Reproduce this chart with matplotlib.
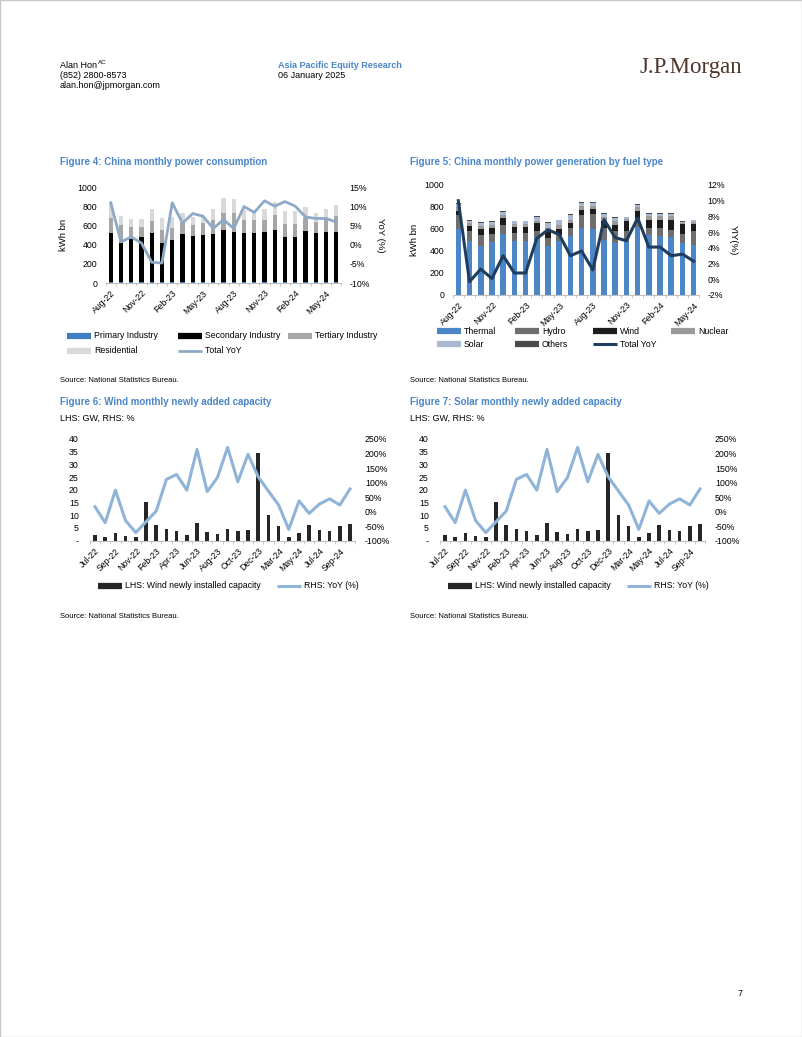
import numpy as np
import matplotlib.pyplot as plt
from matplotlib.lines import Line2D
from matplotlib.patches import Rectangle
from matplotlib.ticker import FuncFormatter, FixedLocator

plt.rcParams['font.family'] = ['Liberation Sans', 'DejaVu Sans']

W, H = 802, 1037
BLUE_TITLE = '#4a86c8'
FS = 6.3

# ---- Figure 4: China monthly power consumption (kWh bn) ----
months4 = ['Aug-22', 'Sep-22', 'Oct-22', 'Nov-22', 'Dec-22', 'Jan-23', 'Feb-23', 'Mar-23',
           'Apr-23', 'May-23', 'Jun-23', 'Jul-23', 'Aug-23', 'Sep-23', 'Oct-23', 'Nov-23',
           'Dec-23', 'Jan-24', 'Feb-24', 'Mar-24', 'Apr-24', 'May-24', 'Jun-24']
primary = [11, 9, 9, 8, 8, 8, 7, 8, 9, 10, 11, 12, 12, 11, 10, 9, 9, 9, 8, 9, 10, 11, 12]
secondary = [510, 407, 452, 471, 513, 412, 444, 506, 477, 490, 499, 537, 519, 510, 511, 522,
             547, 470, 471, 533, 511, 520, 519]
tertiary = [161, 185, 123, 105, 126, 129, 122, 112, 115, 129, 144, 175, 193, 140, 133, 130,
            150, 140, 140, 140, 115, 140, 165]
residential = [153, 95, 87, 87, 122, 133, 117, 98, 88, 55, 112, 157, 150, 104, 98, 109,
               134, 133, 133, 105, 95, 95, 115]
yoy4 = [10.9, 0.7, 2.0, 0.4, -4.6, -4.8, 10.9, 5.6, 8.1, 7.4, 4.2, 6.5, 4.2, 9.9, 8.4, 11.4,
        10.0, 11.2, 10.0, 7.2, 6.8, 6.8, 5.9]

# ---- Figure 5: China monthly power generation by fuel type (kWh bn) ----
months5 = months4[:22]
thermal = [603, 488, 442, 479, 558, 488, 488, 524, 442, 488, 533, 609, 603, 503, 473, 494,
           620, 548, 539, 524, 473, 458]
hydro = [121, 91, 106, 76, 75, 76, 76, 61, 76, 60, 76, 115, 133, 106, 106, 91, 80, 61, 70,
         70, 82, 121]
wind = [43, 51, 55, 54, 67, 51, 51, 70, 61, 55, 46, 52, 46, 61, 60, 85, 61, 76, 76, 91, 87, 63]
nuclear = [30, 25, 27, 30, 30, 30, 30, 21, 30, 36, 30, 30, 24, 35, 31, 24, 36, 30, 30, 30, 16, 20]
solar = [30, 19, 25, 25, 25, 26, 26, 34, 46, 40, 45, 33, 33, 35, 31, 13, 25, 25, 25, 25, 7, 16]
others = [6, 5, 6, 6, 6, 5, 5, 5, 6, 6, 6, 6, 6, 5, 5, 5, 5, 5, 5, 5, 4, 4]
yoy5 = [10.0, -0.3, 1.3, 0.1, 3.0, 0.8, 0.8, 5.2, 6.3, 5.7, 3.0, 3.6, 1.2, 7.6, 5.3, 4.9,
        7.8, 4.1, 4.1, 3.0, 3.2, 2.3]

# ---- Figures 6 & 7: newly added capacity (GW) and YoY (%) ----
months6 = ['Jul-22', 'Aug-22', 'Sep-22', 'Oct-22', 'Nov-22', 'Dec-22', 'Feb-23', 'Mar-23',
           'Apr-23', 'May-23', 'Jun-23', 'Jul-23', 'Aug-23', 'Sep-23', 'Oct-23', 'Nov-23',
           'Dec-23', 'Feb-24', 'Mar-24', 'Apr-24', 'May-24', 'Jun-24', 'Jul-24', 'Aug-24',
           'Sep-24', 'Oct-24']
capacity = [2.1, 1.3, 3.1, 2.0, 1.4, 15.2, 6.0, 4.6, 3.9, 2.2, 6.8, 3.4, 2.6, 4.6, 3.9, 4.2,
            34.6, 10.0, 5.6, 1.4, 3.0, 6.2, 4.2, 3.8, 5.6, 6.7]
cap_yoy = [17, -38, 74, -31, -72, -35, 2, 111, 128, 74, 214, 69, 117, 221, 103, 197, 120, 71,
           23, -61, 37, -6, 26, 44, 23, 78]

fig = plt.figure(figsize=(8.02, 10.37), dpi=100)


def fx(px):
    return px / W


def fy(py):
    return 1 - py / H


def add_ax(left, right, top, bottom):
    return fig.add_axes([fx(left), fy(bottom), (right - left) / W, (bottom - top) / H])


def style(ax, n, step, labels, ypad=6):
    for s in ['top', 'left', 'right']:
        ax.spines[s].set_visible(False)
    ax.spines['bottom'].set_color('#bfbfbf')
    ax.spines['bottom'].set_linewidth(0.8)
    ax.set_xlim(-0.5, n - 0.5)
    ax.set_xticks(np.arange(0, n, step))
    ax.set_xticklabels(labels[::step], rotation=45, ha='right', rotation_mode='anchor',
                       fontsize=FS)
    ax.xaxis.set_minor_locator(FixedLocator(np.arange(-0.5, n, 1)))
    ax.tick_params(axis='x', which='major', length=0, pad=4)
    ax.tick_params(axis='x', which='minor', length=2.5, color='#bfbfbf', width=0.6)
    ax.tick_params(axis='y', length=0, labelsize=FS, pad=ypad)


def twin(ax, pad=6):
    ax2 = ax.twinx()
    for s in ax2.spines.values():
        s.set_visible(False)
    ax2.tick_params(axis='y', length=0, labelsize=FS, pad=pad)
    return ax2


def key(x0, y, color, label, lw=4.5, w=24):
    fig.add_artist(Line2D([fx(x0), fx(x0 + w)], [fy(y), fy(y)], color=color, lw=lw,
                          solid_capstyle='butt'))
    fig.text(fx(x0 + w + 3), fy(y), label, fontsize=FS, va='center')


pct = FuncFormatter(lambda v, _: f'{v:.0f}%')

# page frame
fig.add_artist(Rectangle((0, 0), 1, 1, transform=fig.transFigure, fill=False,
                         ec='#c8c8c8', lw=1))

# header
fig.text(fx(60), fy(66), 'Alan Hon', fontsize=6.5, va='center')
fig.text(fx(97.5), fy(62), 'AC', fontsize=4.5, va='center')
fig.text(fx(60), fy(76), '(852) 2800-8573', fontsize=6.5, va='center')
fig.text(fx(60), fy(86), 'alan.hon@jpmorgan.com', fontsize=6.5, va='center')
fig.text(fx(278), fy(66), 'Asia Pacific Equity Research', fontsize=6.5, va='center',
         color=BLUE_TITLE, weight='bold')
fig.text(fx(278), fy(76), '06 January 2025', fontsize=6.5, va='center')
fig.text(fx(640), fy(68), 'J.P.Morgan', fontsize=16.5, va='center', color='#4e3629',
         family='Liberation Serif')
fig.text(fx(738), fy(993), '7', fontsize=6.5, va='center')

# ===== Figure 4 =====
fig.text(fx(60), fy(162), 'Figure 4: China monthly power consumption', fontsize=7,
         weight='bold', color=BLUE_TITLE, va='center')
ax4 = add_ax(105.6, 341.4, 187, 283)
x4 = np.arange(len(months4))
bottom = np.zeros(len(months4))
for vals, col in [(primary, '#3f7fbf'), (secondary, '#000000'), (tertiary, '#a6a6a6'),
                  (residential, '#d9d9d9')]:
    ax4.bar(x4, vals, 0.42, bottom=bottom, color=col)
    bottom += np.array(vals)
ax4.set_ylim(0, 1000)
ax4.set_yticks(np.arange(0, 1001, 200))
style(ax4, len(months4), 3, months4)
ax4.set_ylabel('kWh bn', fontsize=FS + 0.5)
ax4.yaxis.set_label_coords(-0.16, 0.5)
ax4b = twin(ax4)
ax4b.plot(x4, yoy4, color='#8ea9c8', lw=2)
ax4b.set_ylim(-10, 15)
ax4b.set_yticks(np.arange(-10, 16, 5))
ax4b.yaxis.set_major_formatter(pct)
ax4b.set_ylabel('YoY (%)', fontsize=FS + 0.5, rotation=270, va='center')
ax4b.yaxis.set_label_coords(1.164, 0.5)

for x0, y, col, lab, lw in [(67, 336, '#3f7fbf', 'Primary Industry', 4.5),
                            (178, 336, '#000000', 'Secondary Industry', 4.5),
                            (288, 336, '#a6a6a6', 'Tertiary Industry', 4.5),
                            (67, 351, '#d9d9d9', 'Residential', 4.5),
                            (178, 351, '#8ea9c8', 'Total YoY', 2)]:
    key(x0, y, col, lab, lw)
fig.text(fx(60), fy(380), 'Source: National Statistics Bureau.', fontsize=5.5, va='center')

# ===== Figure 5 =====
fig.text(fx(410), fy(162), 'Figure 5: China monthly power generation by fuel type',
         fontsize=7, weight='bold', color=BLUE_TITLE, va='center')
ax5 = add_ax(452.7, 699.3, 185, 295)
x5 = np.arange(len(months5))
fuel_cols = {'Thermal': '#4a86c8', 'Hydro': '#6e6e6e', 'Wind': '#1c1c1c',
             'Nuclear': '#9a9a9a', 'Solar': '#a8b8d0', 'Others': '#4a4a4a'}
bottom = np.zeros(len(months5))
for name, vals in [('Thermal', thermal), ('Hydro', hydro), ('Wind', wind),
                   ('Nuclear', nuclear), ('Solar', solar), ('Others', others)]:
    ax5.bar(x5, vals, 0.5, bottom=bottom, color=fuel_cols[name])
    bottom += np.array(vals)
ax5.set_ylim(0, 1000)
ax5.set_yticks(np.arange(0, 1001, 200))
style(ax5, len(months5), 3, months5)
ax5.set_ylabel('kWh bn', fontsize=FS + 0.5)
ax5.yaxis.set_label_coords(-0.135, 0.5)
ax5b = twin(ax5)
ax5b.plot(x5, yoy5, color='#1f3d5c', lw=2.2)
ax5b.set_ylim(-2, 12)
ax5b.set_yticks(np.arange(-2, 13, 2))
ax5b.yaxis.set_major_formatter(pct)
ax5b.set_ylabel('YIY(%)', fontsize=FS + 0.5, rotation=270, va='center')
ax5b.yaxis.set_label_coords(1.137, 0.5)

for x0, y, name in [(437, 331, 'Thermal'), (515, 331, 'Hydro'), (593, 331, 'Wind'),
                    (671, 331, 'Nuclear'), (437, 344, 'Solar'), (515, 344, 'Others')]:
    key(x0, y, fuel_cols[name], name)
key(593, 344, '#1f3d5c', 'Total YoY', 2.2)
fig.text(fx(410), fy(380), 'Source: National Statistics Bureau.', fontsize=5.5, va='center')

# ===== Figures 6 and 7 =====
x6 = np.arange(len(months6))
for dx, title in [(0, 'Figure 6: Wind monthly newly added capacity'),
                  (350, 'Figure 7: Solar monthly newly added capacity')]:
    fig.text(fx(60 + dx), fy(402), title, fontsize=7, weight='bold', color=BLUE_TITLE,
             va='center')
    fig.text(fx(60 + dx), fy(418), 'LHS: GW, RHS: %', fontsize=6.5, va='center')
    ax = add_ax(89.9 + dx, 355.1 + dx, 439, 540.7)
    ax.bar(x6, capacity, 0.35, color='#262626')
    ax.set_ylim(0, 40)
    ax.set_yticks(np.arange(0, 41, 5))
    ax.yaxis.set_major_formatter(FuncFormatter(lambda v, _: '-' if v == 0 else f'{v:.0f}'))
    style(ax, len(months6), 2, months6, ypad=8)
    axb = twin(ax, pad=7)
    axb.plot(x6, cap_yoy, color='#90b4d8', lw=2.2)
    axb.set_ylim(-100, 250)
    axb.set_yticks(np.arange(-100, 251, 50))
    axb.yaxis.set_major_formatter(pct)
    key(98 + dx, 585.5, '#262626', 'LHS: Wind newly installed capacity')
    key(277 + dx, 585.5, '#90b4d8', 'RHS: YoY (%)', 2.2)
    fig.text(fx(60 + dx), fy(617), 'Source: National Statistics Bureau.', fontsize=5.5,
             va='center')

fig.savefig('out.png', dpi=100)
